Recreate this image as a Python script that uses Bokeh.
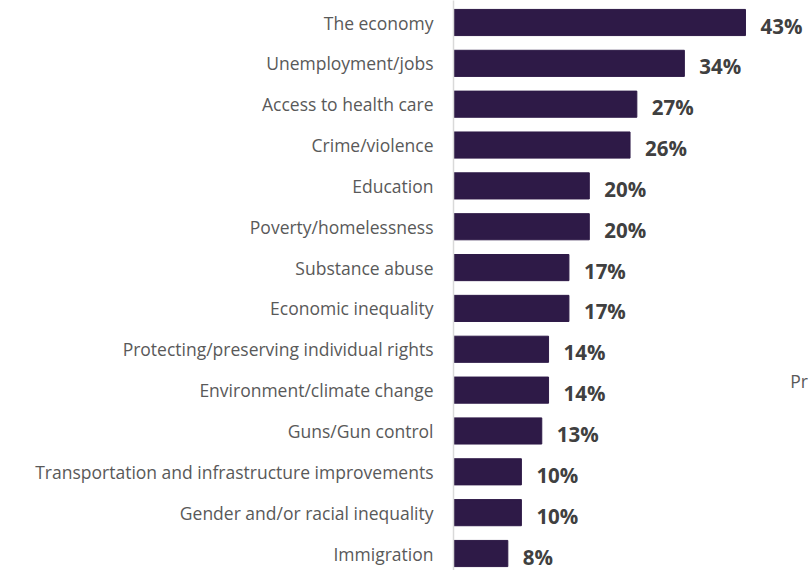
from bokeh.plotting import figure
from bokeh.models import ColumnDataSource, Range1d, FixedTicker
from bokeh.core.properties import value
from bokeh.embed import file_html
from bokeh.resources import INLINE

categories = [
    "The economy",
    "Unemployment/jobs",
    "Access to health care",
    "Crime/violence",
    "Education",
    "Poverty/homelessness",
    "Substance abuse",
    "Economic inequality",
    "Protecting/preserving individual rights",
    "Environment/climate change",
    "Guns/Gun control",
    "Transportation and infrastructure improvements",
    "Gender and/or racial inequality",
    "Immigration",
]
values = [43, 34, 27, 26, 20, 20, 17, 17, 14, 14, 13, 10, 10, 8]
labels = [f"{v}%" for v in values]

# partially visible side text at the right edge (cut off in the original)
side_text = ["Pr"]
side_x = [49.6]
side_y = [8.78]

idx = list(range(len(categories)))
src = ColumnDataSource(dict(y=idx, v=values, lab=labels))

W, H = 809, 570
p = figure(width=W, height=H, output_backend="svg", toolbar_location=None,
           x_range=Range1d(0, 52.43),
           y_range=Range1d(13.416, -0.5386),
           min_border_left=453, min_border_right=0, min_border_top=0, min_border_bottom=0)
p.outline_line_color = None
p.background_fill_color = "white"
p.border_fill_color = "white"
p.grid.visible = False
p.xaxis.visible = False

p.hbar(y="y", left=0, right="v", height=0.64, source=src,
       fill_color="#2e1a47", line_color="#2e1a47")

p.text(x="v", y="y", text="lab", source=src, x_offset=15, y_offset=3,
       text_font=value("Open Sans"), text_font_style="bold", text_font_size="20.5px",
       text_color="#404040", text_baseline="middle", text_align="left")

p.text(x=side_x, y=side_y, text=side_text,
       text_font=value("Open Sans"), text_font_size="17.5px",
       text_color="#595959", text_baseline="middle", text_align="left")

ya = p.yaxis[0]
ya.ticker = FixedTicker(ticks=idx)
ya.major_label_overrides = {i: c for i, c in enumerate(categories)}
ya.major_tick_line_color = None
ya.minor_tick_line_color = None
ya.axis_line_color = "#d9d9d9"
ya.axis_line_width = 1.5
ya.major_label_standoff = 14
ya.major_label_text_font = "Open Sans"
ya.major_label_text_font_size = "17.5px"
ya.major_label_text_color = "#595959"

open("out.html", "w").write(file_html(p, INLINE))
